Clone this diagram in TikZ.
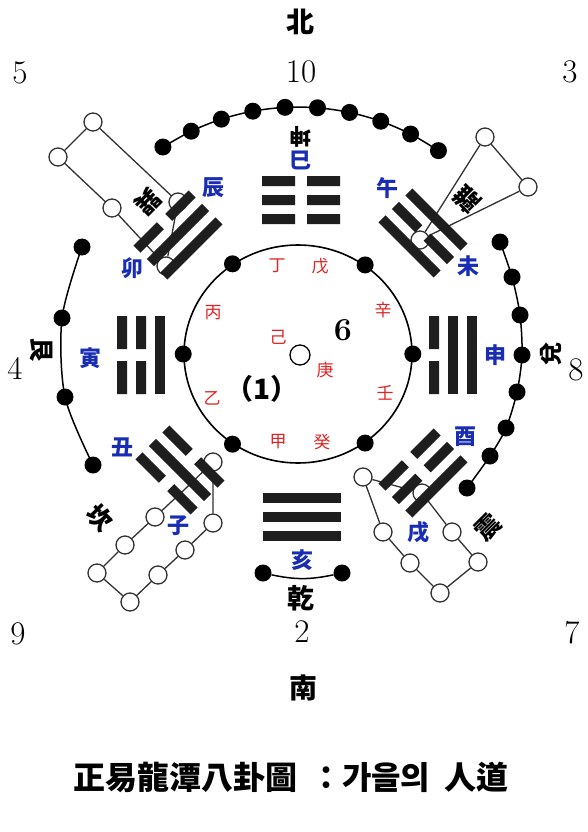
\documentclass[tikz,border=0pt]{standalone}
\usepackage{fontspec}
\newfontfamily\cjk{Noto Sans CJK KR}
\usetikzlibrary{shapes.geometric}
\definecolor{stemred}{RGB}{225,35,35}
\definecolor{branchblue}{RGB}{25,45,180}
\definecolor{barcol}{RGB}{30,30,30}
\definecolor{loopcol}{RGB}{50,50,50}
\tikzset{
  barfill/.style={fill=barcol},
  dot/.style={circle, fill=black, inner sep=0pt, minimum size=17pt},
  odot/.style={circle, draw=loopcol, line width=1.3pt, fill=white, inner sep=0pt, minimum size=18pt},
  lnk/.style={line width=1.3pt, draw=loopcol},
  arcline/.style={line width=1.5pt, draw=black},
  stem/.style={text=stemred, font=\cjk\fontsize{17}{17}\selectfont, inner sep=0pt},
  branch/.style={text=branchblue, font=\cjk\bfseries\fontsize{22}{22}\selectfont, inner sep=0pt},
  gname/.style={font=\cjk\bfseries\fontsize{25}{25}\selectfont, inner sep=0pt},
  num/.style={font=\fontsize{33}{33}\selectfont, inner sep=0pt},
  compass/.style={font=\cjk\bfseries\fontsize{28}{28}\selectfont, inner sep=0pt},
}
\newcommand\yaoline[2]{%
  \ifnum#2=1
    \fill[barfill] (-39,#1-5) rectangle (39,#1+5);
  \else
    \fill[barfill] (-39,#1-5) rectangle (-6,#1+5) (6,#1-5) rectangle (39,#1+5);
  \fi}
\newcommand\gua[6]{%
  \begin{scope}[shift={(#1,#2)},rotate=#3]
    \yaoline{-19}{#4}\yaoline{0}{#5}\yaoline{19}{#6}
  \end{scope}}
\begin{document}
\begin{tikzpicture}[x=1pt,y=-1pt]
\useasboundingbox (0,0) rectangle (588,832);
\fill[white] (0,0) rectangle (588,832);

% ---------- open-circle loops ----------
% upper-left (5)
\node[odot] (ul1) at (93,122) {};
\node[odot] (ul2) at (58,157) {};
\node[odot] (ul3) at (112,208) {};
\node[odot] (ul4) at (166,266) {};
\node[odot] (ul5) at (178,202) {};
\draw[lnk] (ul1) -- (ul2) -- (ul3) -- (ul4) -- (ul5) -- (ul1);
% upper-right (3)
\node[odot] (ur1) at (485,137) {};
\node[odot] (ur2) at (528,187) {};
\node[odot] (ur3) at (420,240) {};
\draw[lnk] (ur1) -- (ur2) -- (ur3) -- (ur1);
% lower-left (9)
\node[odot] (ll1) at (213,462) {};
\node[odot] (ll2) at (213,523) {};
\node[odot] (ll3) at (185,550) {};
\node[odot] (ll4) at (158,575) {};
\node[odot] (ll5) at (130,602) {};
\node[odot] (ll6) at (97,573) {};
\node[odot] (ll7) at (125,545) {};
\node[odot] (ll8) at (155,517) {};
\coordinate (ll9) at (184,490);
\draw[lnk] (ll1) -- (ll2) -- (ll3) -- (ll4) -- (ll5) -- (ll6) -- (ll7) -- (ll8) -- (ll9) -- (ll1);
% lower-right (7)
\node[odot] (lr1) at (363,477) {};
\node[odot] (lr2) at (383,532) {};
\node[odot] (lr3) at (410,563) {};
\node[odot] (lr4) at (440,593) {};
\node[odot] (lr5) at (478,562) {};
\node[odot] (lr6) at (452,532) {};
\node[odot] (lr7) at (422,493) {};
\draw[lnk] (lr1) -- (lr2) -- (lr3) -- (lr4) -- (lr5) -- (lr6) -- (lr7) -- (lr1);

% ---------- trigrams (top line faces the centre) ----------
\gua{301}{200}{180}{0}{0}{0}   % kun
\gua{302}{517}{0}{1}{1}{1}     % qian
\gua{141}{355}{-90}{1}{0}{0}   % gen
\gua{453}{355}{90}{0}{1}{1}    % dui
\gua{178}{235}{-135}{1}{1}{0}  % xun
\gua{423}{233}{135}{1}{0}{1}   % li
\gua{180}{470}{-45}{0}{1}{0}   % kan
\gua{423}{473}{45}{0}{0}{1}    % zhen

% ---------- outer arcs of black dots ----------
\foreach \k in {0,...,9}
  \coordinate (tc\k) at ({298+248*cos(123-7.5*\k)},{355-248*sin(123-7.5*\k)});
\draw[arcline] plot[smooth] coordinates {(tc0) (tc1) (tc2) (tc3) (tc4) (tc5) (tc6) (tc7) (tc8) (tc9)};
\foreach \k in {0,...,9} \node[dot] (top\k) at (tc\k) {};

\coordinate (lc1) at (82,247);
\coordinate (lc2) at (62,318);
\coordinate (lc3) at (65,397);
\coordinate (lc4) at (93,465);
\draw[arcline] plot[smooth] coordinates {(lc1) (lc2) (lc3) (lc4)};
\foreach \k in {1,...,4} \node[dot] (left\k) at (lc\k) {};

\coordinate (rc1) at (500,242);
\coordinate (rc2) at (512,277);
\coordinate (rc3) at (520,315);
\coordinate (rc4) at (522,355);
\coordinate (rc5) at (517,392);
\coordinate (rc6) at (506,428);
\coordinate (rc7) at (490,456);
\coordinate (rc8) at (467,488);
\draw[arcline] plot[smooth] coordinates {(rc1) (rc2) (rc3) (rc4) (rc5) (rc6) (rc7) (rc8)};
\foreach \k in {1,...,8} \node[dot] (right\k) at (rc\k) {};

\node[dot] (bot1) at (263,573) {};
\node[dot] (bot2) at (342,573) {};
\draw[arcline] (bot1) to[bend right=12] (bot2);

% ---------- inner circle ----------
\node[draw, ellipse, line width=1.6pt, minimum width=228pt, minimum height=218pt, inner sep=0pt] (inner) at (298,354) {};
\node[dot] (in0) at (inner.0) {};
\node[dot] (in1) at (inner.53.5) {};
\node[dot] (in2) at (inner.126.5) {};
\node[dot] (in3) at (inner.180) {};
\node[dot] (in4) at (inner.-126.5) {};
\node[dot] (in5) at (inner.-53.5) {};
\node[odot, minimum size=20pt, draw=black] (ctr) at (300,355) {};

% ---------- heavenly stems ----------
\node[stem] (s1) at (277,266) {丁};
\node[stem] (s2) at (320,266) {戊};
\node[stem] (s3) at (213,313) {丙};
\node[stem] (s4) at (383,310) {辛};
\node[stem] (s5) at (278,337) {己};
\node[stem] (s6) at (325,370) {庚};
\node[stem] (s7) at (212,398) {乙};
\node[stem] (s8) at (385,393) {壬};
\node[stem] (s9) at (278,442) {甲};
\node[stem] (s10) at (322,442) {癸};
\node[font=\bfseries\fontsize{32}{32}\selectfont, inner sep=0pt] (six) at (343,330) {6};
\node[font=\cjk\bfseries\fontsize{28}{28}\selectfont, inner sep=0pt] (one) at (262,389) {（1）};

% ---------- earthly branches ----------
\node[branch] (b1) at (300,160) {巳};
\node[branch] (b2) at (387,188) {午};
\node[branch] (b3) at (468,266) {未};
\node[branch] (b4) at (495,355) {申};
\node[branch] (b5) at (465,437) {酉};
\node[branch] (b6) at (418,532) {戌};
\node[branch] (b7) at (302,560) {亥};
\node[branch] (b8) at (178,526) {子};
\node[branch] (b9) at (122,447) {丑};
\node[branch] (b10) at (90,358) {寅};
\node[branch] (b11) at (132,268) {卯};
\node[branch] (b12) at (213,188) {辰};

% ---------- trigram names ----------
\node[gname, rotate=180, font=\cjk\bfseries\fontsize{22}{22}\selectfont] (nkun) at (300,137) {坤};
\node[gname, font=\cjk\bfseries\fontsize{27}{27}\selectfont] (nqian) at (301,598) {乾};
\node[gname, rotate=-90] (ngen) at (42,350) {艮};
\node[gname, rotate=90, font=\cjk\bfseries\fontsize{23}{23}\selectfont] (ndui) at (551,354) {兌};
\node[gname, rotate=-135] (nxun) at (148,202) {巽};
\node[gname, rotate=135] (nli) at (467,199) {離};
\node[gname, rotate=-45] (nkan) at (100,518) {坎};
\node[gname, rotate=45] (nzhen) at (488,527) {震};

% ---------- numbers and compass ----------
\node[num] (n5) at (20,73) {5};
\node[num] (n10) at (301,72) {10};
\node[num] (n3) at (570,72) {3};
\node[num] (n4) at (15,368) {4};
\node[num] (n8) at (576,370) {8};
\node[num] (n9) at (18,634) {9};
\node[num] (n2) at (302,632) {2};
\node[num] (n7) at (572,633) {7};
\node[compass] (north) at (300,22) {北};
\node[compass] (south) at (303,688) {南};

% ---------- title ----------
\node[font=\cjk\bfseries\fontsize{32}{32}\selectfont, inner sep=0pt] (title) at (291,777) {正易龍潭八卦圖\hspace{0.4em}：가을의\hspace{0.45em}人道};
\end{tikzpicture}
\end{document}
